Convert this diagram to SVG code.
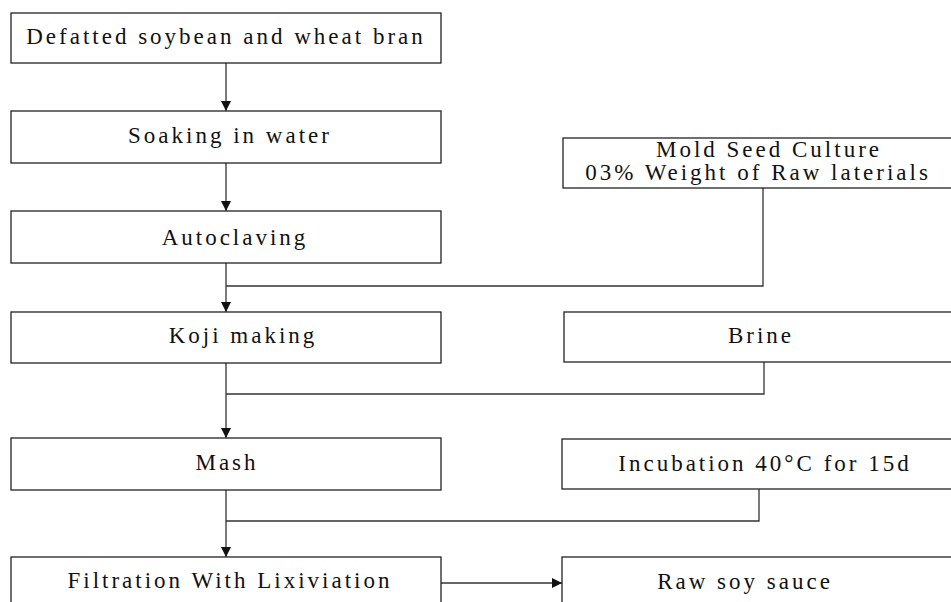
<svg xmlns="http://www.w3.org/2000/svg" width="951" height="602" viewBox="0 0 951 602">
<style>
.box{fill:#fff;stroke:#222;stroke-width:1.3}
.con{fill:none;stroke:#333;stroke-width:1.3}
.lbl{font-family:'Liberation Serif','Times New Roman',serif;font-size:23px;fill:#111;text-anchor:middle}
</style>
<defs>
<marker id="arr" viewBox="0 0 10 10" refX="10" refY="5" markerWidth="10" markerHeight="10" markerUnits="userSpaceOnUse" orient="auto">
<path d="M0,0 L10,5 L0,10 Z" fill="#111"/>
</marker>
</defs>
<rect width="951" height="602" fill="#fff"/>
<g id="connectors">
<path class="con" d="M226,63 V111" marker-end="url(#arr)"/>
<path class="con" d="M226,163 V211" marker-end="url(#arr)"/>
<path class="con" d="M226,263 V312" marker-end="url(#arr)"/>
<path class="con" d="M763,188 V286 H226"/>
<path class="con" d="M226,363 V438" marker-end="url(#arr)"/>
<path class="con" d="M764,362 V394 H226"/>
<path class="con" d="M226,490 V557" marker-end="url(#arr)"/>
<path class="con" d="M759,489 V521 H226"/>
<path class="con" d="M441,583 H562" marker-end="url(#arr)"/>
</g>
<g id="n1"><rect class="box" x="11" y="13" width="430" height="50"/><text class="lbl" x="226" y="44" letter-spacing="3">Defatted soybean and wheat bran</text></g>
<g id="n2"><rect class="box" x="11" y="111" width="430" height="52"/><text class="lbl" x="230" y="143" letter-spacing="3">Soaking in water</text></g>
<g id="n3"><rect class="box" x="11" y="211" width="430" height="52"/><text class="lbl" x="235" y="245" letter-spacing="3">Autoclaving</text></g>
<g id="n4"><rect class="box" x="11" y="312" width="430" height="51"/><text class="lbl" x="243" y="343" letter-spacing="3">Koji making</text></g>
<g id="n5"><rect class="box" x="11" y="438" width="430" height="52"/><text class="lbl" x="227" y="470" letter-spacing="3">Mash</text></g>
<g id="n6"><rect class="box" x="11" y="557" width="430" height="60"/><text class="lbl" x="230" y="588" letter-spacing="3">Filtration With Lixiviation</text></g>
<g id="n7"><rect class="box" x="563" y="138" width="400" height="50"/><text class="lbl" x="769" y="157" letter-spacing="3">Mold Seed Culture</text><text class="lbl" x="758" y="180" letter-spacing="3">03% Weight of Raw laterials</text></g>
<g id="n8"><rect class="box" x="564" y="312" width="400" height="50"/><text class="lbl" x="761" y="343" letter-spacing="3">Brine</text></g>
<g id="n9"><rect class="box" x="562" y="439" width="400" height="50"/><text class="lbl" x="765" y="471" letter-spacing="3">Incubation 40°C for 15d</text></g>
<g id="n10"><rect class="box" x="562" y="557" width="400" height="60"/><text class="lbl" x="745" y="589" letter-spacing="3">Raw soy sauce</text></g>
</svg>
